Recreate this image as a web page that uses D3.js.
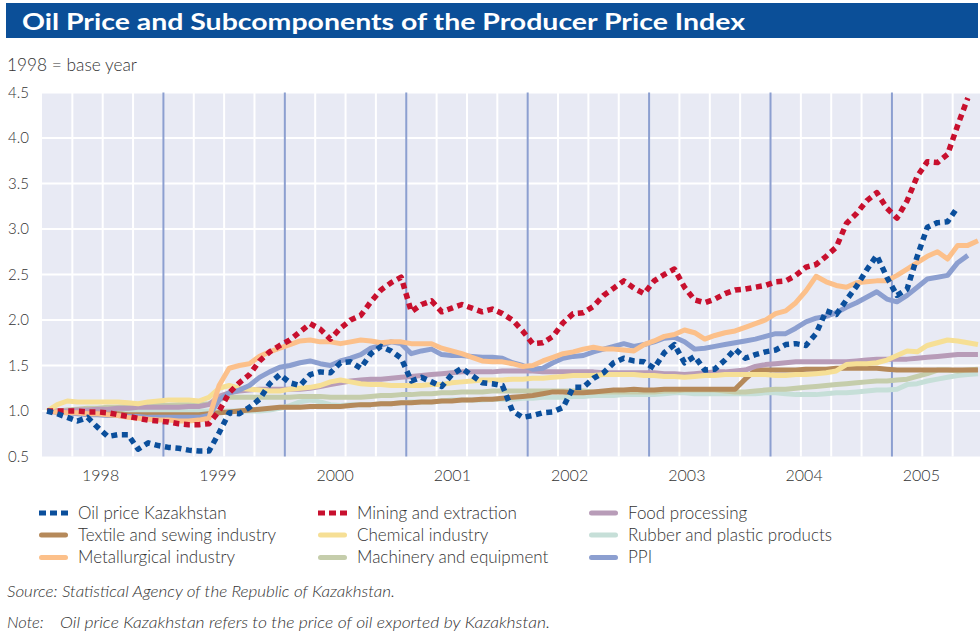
<!DOCTYPE html>
<html><head><meta charset="utf-8">
<script src="https://cdn.jsdelivr.net/npm/d3@7/dist/d3.min.js"></script>
<style>
body{margin:0;background:#fff;}
text{font-family:Lato,"Open Sans",sans-serif;}
</style></head>
<body><svg id="c" width="980" height="644"></svg>
<script>
// ---- data ----
const years = ["1998","1999","2000","2001","2002","2003","2004","2005"];
const yTicks = [0.5,1.0,1.5,2.0,2.5,3.0,3.5,4.0,4.5];
const nMonths = 93; // Jan 1998 .. Sep 2005
const months = d3.range(nMonths);

const oilPrice = [1.00,0.97,0.93,0.89,0.93,0.82,0.72,0.74,0.74,0.58,0.65,0.62,0.60,0.59,0.57,0.56,0.56,0.76,0.98,0.97,1.04,1.13,1.30,1.40,1.31,1.28,1.40,1.43,1.42,1.53,1.54,1.47,1.63,1.71,1.66,1.58,1.33,1.37,1.32,1.27,1.40,1.47,1.39,1.31,1.30,1.28,1.00,0.93,0.95,0.98,0.99,1.04,1.26,1.26,1.36,1.42,1.53,1.58,1.55,1.54,1.47,1.64,1.73,1.53,1.60,1.45,1.46,1.56,1.68,1.58,1.62,1.65,1.67,1.73,1.74,1.72,1.85,2.10,2.06,2.22,2.37,2.55,2.71,2.47,2.27,2.34,2.70,3.02,3.07,3.08,3.24];
const mining = [1.00,1.00,1.00,1.00,0.99,0.99,0.98,0.96,0.94,0.92,0.90,0.89,0.88,0.86,0.85,0.85,0.86,1.00,1.20,1.31,1.40,1.55,1.65,1.72,1.78,1.87,1.96,1.90,1.79,1.91,2.00,2.05,2.20,2.33,2.41,2.47,2.09,2.17,2.21,2.09,2.13,2.17,2.13,2.09,2.12,2.07,2.00,1.88,1.74,1.75,1.82,1.97,2.07,2.08,2.15,2.27,2.35,2.43,2.35,2.29,2.43,2.50,2.56,2.36,2.22,2.19,2.23,2.29,2.33,2.34,2.36,2.38,2.42,2.43,2.49,2.58,2.61,2.70,2.80,3.06,3.17,3.31,3.40,3.23,3.12,3.31,3.58,3.74,3.73,3.82,4.14,4.44];
const food = [1.00,1.00,1.00,1.01,1.01,1.02,1.02,1.03,1.03,1.04,1.04,1.04,1.04,1.04,1.05,1.05,1.07,1.16,1.20,1.22,1.23,1.24,1.24,1.24,1.24,1.24,1.25,1.27,1.29,1.31,1.33,1.34,1.35,1.35,1.36,1.37,1.38,1.39,1.40,1.41,1.42,1.43,1.43,1.43,1.43,1.44,1.44,1.44,1.44,1.43,1.43,1.43,1.43,1.43,1.43,1.42,1.42,1.42,1.42,1.42,1.42,1.41,1.41,1.40,1.41,1.42,1.43,1.43,1.44,1.45,1.49,1.51,1.52,1.53,1.54,1.54,1.54,1.54,1.54,1.54,1.55,1.56,1.57,1.57,1.57,1.57,1.58,1.59,1.60,1.61,1.62,1.62,1.62];
const textile = [1.00,0.99,0.99,0.98,0.98,0.97,0.97,0.97,0.96,0.96,0.96,0.96,0.96,0.96,0.96,0.96,0.97,0.98,0.99,1.00,1.01,1.02,1.03,1.04,1.04,1.04,1.05,1.05,1.05,1.05,1.06,1.07,1.07,1.08,1.08,1.09,1.09,1.10,1.10,1.11,1.11,1.12,1.12,1.13,1.13,1.14,1.15,1.16,1.17,1.19,1.21,1.21,1.20,1.20,1.21,1.22,1.23,1.23,1.24,1.23,1.23,1.24,1.24,1.24,1.24,1.24,1.24,1.24,1.24,1.35,1.45,1.45,1.45,1.45,1.45,1.46,1.46,1.46,1.47,1.47,1.47,1.47,1.47,1.46,1.45,1.45,1.45,1.45,1.45,1.45,1.45,1.45,1.45];
const chemical = [1.00,1.07,1.11,1.10,1.10,1.10,1.10,1.10,1.09,1.08,1.10,1.11,1.12,1.12,1.12,1.11,1.15,1.25,1.28,1.25,1.24,1.23,1.22,1.22,1.24,1.25,1.26,1.28,1.32,1.34,1.32,1.30,1.29,1.29,1.28,1.28,1.28,1.28,1.29,1.29,1.31,1.32,1.33,1.34,1.34,1.34,1.35,1.35,1.36,1.36,1.37,1.38,1.39,1.39,1.39,1.40,1.40,1.40,1.40,1.39,1.39,1.38,1.38,1.37,1.38,1.39,1.39,1.40,1.40,1.40,1.40,1.40,1.39,1.39,1.40,1.40,1.41,1.42,1.44,1.51,1.52,1.52,1.53,1.56,1.61,1.66,1.65,1.72,1.75,1.78,1.77,1.75,1.73];
const rubber = [1.00,1.00,1.00,1.00,1.00,1.00,1.00,1.00,1.00,1.00,1.00,1.00,1.00,1.00,1.00,1.00,1.00,1.00,1.00,1.00,1.00,1.00,1.01,1.03,1.06,1.10,1.12,1.10,1.07,1.06,1.07,1.07,1.07,1.08,1.08,1.09,1.10,1.10,1.10,1.11,1.12,1.12,1.12,1.12,1.13,1.13,1.13,1.14,1.14,1.15,1.15,1.15,1.16,1.16,1.17,1.17,1.17,1.18,1.18,1.18,1.18,1.19,1.20,1.20,1.19,1.19,1.19,1.19,1.19,1.19,1.19,1.20,1.20,1.19,1.18,1.18,1.18,1.19,1.20,1.20,1.21,1.22,1.23,1.23,1.24,1.29,1.30,1.33,1.35,1.37,1.39,1.40,1.41];
const metallurgical = [1.00,0.99,0.98,0.98,0.97,0.97,0.96,0.95,0.93,0.92,0.91,0.90,0.90,0.89,0.89,0.90,0.92,1.28,1.47,1.50,1.52,1.60,1.65,1.69,1.73,1.77,1.78,1.76,1.76,1.74,1.76,1.78,1.77,1.75,1.76,1.76,1.74,1.74,1.74,1.69,1.66,1.63,1.59,1.55,1.54,1.54,1.52,1.49,1.50,1.55,1.59,1.63,1.65,1.68,1.70,1.68,1.68,1.67,1.66,1.73,1.77,1.82,1.84,1.89,1.86,1.79,1.83,1.86,1.88,1.92,1.96,2.00,2.07,2.10,2.19,2.32,2.48,2.42,2.38,2.36,2.41,2.42,2.43,2.43,2.49,2.56,2.63,2.70,2.75,2.67,2.82,2.82,2.87];
const machinery = [1.00,1.00,1.01,1.02,1.03,1.03,1.04,1.04,1.05,1.05,1.06,1.06,1.06,1.07,1.07,1.07,1.08,1.13,1.15,1.15,1.15,1.15,1.15,1.15,1.15,1.16,1.16,1.16,1.15,1.15,1.15,1.15,1.16,1.17,1.17,1.18,1.18,1.19,1.19,1.20,1.20,1.21,1.21,1.21,1.22,1.22,1.22,1.22,1.22,1.22,1.22,1.22,1.22,1.22,1.21,1.21,1.21,1.21,1.21,1.21,1.21,1.22,1.22,1.23,1.23,1.23,1.23,1.22,1.21,1.21,1.22,1.23,1.24,1.24,1.25,1.26,1.27,1.28,1.29,1.30,1.31,1.32,1.33,1.33,1.34,1.35,1.38,1.41,1.45,1.45,1.44,1.45,1.46];
const ppi = [1.00,0.99,0.98,0.97,0.96,0.96,0.95,0.95,0.94,0.94,0.93,0.93,0.93,0.93,0.93,0.93,0.95,1.12,1.20,1.23,1.28,1.37,1.43,1.48,1.50,1.53,1.55,1.52,1.50,1.55,1.58,1.62,1.69,1.72,1.76,1.74,1.63,1.66,1.68,1.62,1.61,1.61,1.60,1.59,1.59,1.58,1.53,1.50,1.46,1.47,1.53,1.58,1.60,1.61,1.65,1.68,1.71,1.74,1.71,1.73,1.76,1.80,1.81,1.76,1.68,1.69,1.71,1.73,1.75,1.77,1.79,1.82,1.85,1.85,1.91,1.98,2.02,2.04,2.08,2.14,2.19,2.25,2.31,2.23,2.20,2.27,2.36,2.45,2.47,2.49,2.63,2.71];

const seriesNames = ["Oil price Kazakhstan","Mining and extraction","Food processing","Textile and sewing industry","Chemical industry","Rubber and plastic products","Metallurgical industry","Machinery and equipment","PPI"];
const seriesValues = [oilPrice, mining, food, textile, chemical, rubber, metallurgical, machinery, ppi];
const seriesColors = ["#0b4f9c","#c8102e","#b89cb8","#b5895a","#f6df95","#c6dfd8","#fcc08a","#c5cdab","#8c9fd0"];
const seriesDotted = [true,true,false,false,false,false,false,false,false];
const drawOrder = [5,7,3,2,4,8,6,1,0];

// ---- layout ----
const svg = d3.select("#c");
const L = 42, R = 983, T = 92.5, B = 456.5, clipR = 980;

svg.append("rect").attr("x",6).attr("y",3).attr("width",972).attr("height",35).attr("fill","#0b4f98");
svg.append("text").attr("x",22).attr("y",29.5).attr("fill","#fff")
  .attr("font-size",23).attr("font-weight",700)
  .attr("textLength",723).attr("lengthAdjust","spacingAndGlyphs")
  .text("Oil Price and Subcomponents of the Producer Price Index");
svg.append("text").attr("x",7).attr("y",70.5).attr("fill","#333").attr("font-size",17.3)
  .attr("font-weight",300).text("1998 = base year");

const x = d3.scaleBand().domain(months).range([L, R]);
const y = d3.scaleLinear().domain([0.5, 4.5]).range([B, T]);
const xYear = d3.scaleBand().domain(years).range([L, clipR]);

svg.append("defs").append("clipPath").attr("id","pc").append("rect")
  .attr("x",L).attr("y",T-4).attr("width",clipR-L).attr("height",B-T+8);

svg.append("rect").attr("x",L).attr("y",T).attr("width",clipR-L).attr("height",B-T).attr("fill","#e8eaf4");

const g = svg.append("g");
g.selectAll("line.h").data(yTicks.slice(1)).join("line")
  .attr("x1",L).attr("x2",clipR).attr("y1",d=>y(d)).attr("y2",d=>y(d))
  .attr("stroke","#fff").attr("stroke-width",2);
const vlines = months.filter(m => m>0 && m%3===0);
g.selectAll("line.v").data(vlines).join("line")
  .attr("x1",d=>x(d)).attr("x2",d=>x(d)).attr("y1",T).attr("y2",B)
  .attr("stroke",d=> d%12===0 ? "#8c9fd0" : "#fff").attr("stroke-width",2);

const yAxis = d3.axisLeft(y).tickValues(yTicks).tickFormat(d3.format(".1f")).tickSize(0).tickPadding(0);
const ya = svg.append("g").attr("transform",`translate(29,0)`).call(yAxis);
ya.select(".domain").remove();
ya.selectAll("text").attr("font-family","Lato").attr("font-size",15).attr("fill","#333").attr("font-weight",300);

const xAxis = d3.axisBottom(xYear).tickSize(0).tickPadding(0);
const xa = svg.append("g").attr("transform",`translate(0,${B+13})`).call(xAxis);
xa.select(".domain").remove();
xa.selectAll("text").attr("font-family","Lato").attr("font-size",16).attr("fill","#333").attr("font-weight",300);

const line = d3.line().x((d,i)=>x(i)+x.bandwidth()/2).y(d=>y(d));
const lg = svg.append("g").attr("clip-path","url(#pc)");
drawOrder.forEach(k=>{
  const p = lg.append("path").datum(seriesValues[k]).attr("d",line)
    .attr("fill","none").attr("stroke",seriesColors[k]).attr("stroke-width",5)
    .attr("stroke-linejoin","round");
  if(seriesDotted[k]) p.attr("stroke-dasharray","6,4.6").attr("stroke-width",5.5);
});

const colX = [39,318,589];
const rowY = [513,535,557.5];
const lgd = svg.append("g");
seriesNames.forEach((n,k)=>{
  const cx = colX[k%3], cy = rowY[Math.floor(k/3)];
  if(seriesDotted[k]){
    lgd.append("line").attr("x1",cx).attr("x2",cx+29).attr("y1",cy).attr("y2",cy)
      .attr("stroke",seriesColors[k]).attr("stroke-width",5).attr("stroke-dasharray","7,4");
  } else {
    lgd.append("line").attr("x1",cx+2.5).attr("x2",cx+26.5).attr("y1",cy).attr("y2",cy)
      .attr("stroke",seriesColors[k]).attr("stroke-width",5).attr("stroke-linecap","round");
  }
  lgd.append("text").attr("x",cx+39).attr("y",cy+5.5).attr("font-size",17).attr("fill","#333")
    .attr("font-weight",300).text(n);
});

svg.append("text").attr("x",7).attr("y",597).attr("font-size",16.5).attr("font-style","italic")
  .attr("fill","#333").attr("font-weight",300)
  .attr("textLength",388).attr("lengthAdjust","spacingAndGlyphs")
  .text("Source: Statistical Agency of the Republic of Kazakhstan.");
svg.append("text").attr("x",7).attr("y",628).attr("font-size",16.5).attr("font-style","italic")
  .attr("fill","#333").attr("font-weight",300).text("Note:");
svg.append("text").attr("x",60).attr("y",628).attr("font-size",16.5).attr("font-style","italic")
  .attr("fill","#333").attr("font-weight",300)
  .attr("textLength",490).attr("lengthAdjust","spacingAndGlyphs")
  .text("Oil price Kazakhstan refers to the price of oil exported by Kazakhstan.");
</script></body></html>
